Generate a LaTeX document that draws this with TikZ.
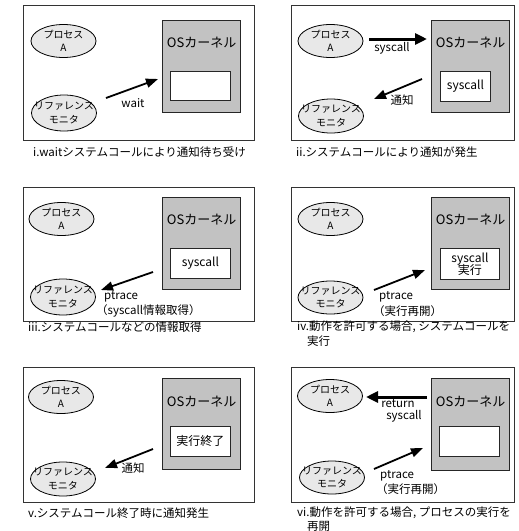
\documentclass[tikz,border=0pt]{standalone}
\usepackage{fontspec}
\setmainfont{Noto Sans CJK JP}
\usetikzlibrary{arrows.meta,shapes.geometric}
\tikzset{
  panel/.style={draw=black!80, line width=0.8pt, fill=white},
  proc/.style={ellipse, draw=black, line width=0.8pt, fill=black!9, minimum width=65pt, minimum height=33pt, inner sep=0pt},
  ptext/.style={align=center, inner sep=0pt, font=\fontsize{10}{13.5}\selectfont},
  kernbox/.style={draw=black!85, line width=1.3pt, fill=black!24, anchor=north west, inner sep=0pt},
  innerbox/.style={draw=black!85, line width=0.9pt, fill=white, anchor=north west, inner sep=0pt},
  ktext/.style={font=\fontsize{13}{14}\selectfont, inner sep=0pt},
  itext/.style={font=\fontsize{12}{13}\selectfont, inner sep=0pt, align=center},
  lbl/.style={font=\fontsize{11.5}{12}\selectfont, inner sep=0pt},
  captext/.style={font=\fontsize{11.5}{13}\selectfont, inner sep=0pt, anchor=west},
  arr/.style={line width=1.8pt, -{Triangle[length=12pt,width=9pt]}},
  arrthick/.style={line width=3pt, -{Triangle[length=12pt,width=11pt]}},
}
\begin{document}
\begin{tikzpicture}[x=1pt,y=-1pt]
\useasboundingbox (0,0) rectangle (519,531);
% ---------- Panel i ----------
\node[panel, minimum width=231pt, minimum height=135pt, anchor=north west, inner sep=0pt] (o1) at (23,5) {};
\node[kernbox, minimum width=78pt, minimum height=92pt] (k1) at (162,20) {};
\node[ktext] (kt1) at ([yshift=-23pt]k1.north) {OSカーネル};
\node[innerbox, minimum width=60pt, minimum height=29pt] (i1) at (170,71) {};
\node[proc] (a1) at (63.5,41) {};
\node[ptext] (a1t) at (a1) {プロセス\\A};
\node[proc, minimum height=36pt] (r1) at (64,113) {};
\node[ptext] (r1t) at (r1) {リファレンス\\モニタ};
\coordinate (w1s) at (106,98);
\coordinate (w1e) at (158,79);
\draw[arr] (w1s) -- (w1e);
\node[lbl] (l1) at (133,103) {wait};
\node[captext] (c1) at (33,152) {i.waitシステムコールにより通知待ち受け};
% ---------- Panel ii ----------
\node[panel, minimum width=223pt, minimum height=135pt, anchor=north west, inner sep=0pt] (o2) at (291,5) {};
\node[kernbox, minimum width=78pt, minimum height=92pt] (k2) at (431,20) {};
\node[ktext] (kt2) at ([yshift=-23pt]k2.north) {OSカーネル};
\node[innerbox, minimum width=50pt, minimum height=30pt] (i2) at (440,71) {};
\node[itext] (it2) at (i2.center) {syscall};
\node[proc] (a2) at (330.5,41) {};
\node[ptext] (a2t) at (a2) {プロセス\\A};
\node[proc, minimum height=34pt] (r2) at (331,116) {};
\node[ptext] (r2t) at (r2) {リファレンス\\モニタ};
\coordinate (s2s) at (369,39);
\coordinate (s2e) at (427,39);
\draw[arrthick] (s2s) -- (s2e);
\node[lbl] (l2a) at (392,48) {syscall};
\coordinate (n2s) at (422,79);
\coordinate (n2e) at (374,99);
\draw[arr] (n2s) -- (n2e);
\node[lbl] (l2b) at (402,100) {通知};
\node[captext] (c2) at (296,152) {ii.システムコールにより通知が発生};
% ---------- Panel iii ----------
\node[panel, minimum width=231pt, minimum height=134pt, anchor=north west, inner sep=0pt] (o3) at (23,187) {};
\node[kernbox, minimum width=78pt, minimum height=92pt] (k3) at (162,197) {};
\node[ktext] (kt3) at ([yshift=-23pt]k3.north) {OSカーネル};
\node[innerbox, minimum width=60pt, minimum height=30pt] (i3) at (170,248) {};
\node[itext] (it3) at (i3.center) {syscall};
\node[proc] (a3) at (61.5,219) {};
\node[ptext] (a3t) at (a3) {プロセス\\A};
\node[proc, minimum height=36pt] (r3) at (63,297) {};
\node[ptext] (r3t) at (r3) {リファレンス\\モニタ};
\coordinate (p3s) at (153,272);
\coordinate (p3e) at (101,290);
\draw[arr] (p3s) -- (p3e);
\node[lbl, anchor=west] (l3a) at (104,297) {ptrace};
\node[lbl, anchor=west] (l3b) at (96,311) {（syscall情報取得）};
\node[captext] (c3) at (28,327) {iii.システムコールなどの情報取得};
% ---------- Panel iv ----------
\node[panel, minimum width=223pt, minimum height=134pt, anchor=north west, inner sep=0pt] (o4) at (291,187) {};
\node[kernbox, minimum width=78pt, minimum height=92pt] (k4) at (431,197) {};
\node[ktext] (kt4) at ([yshift=-23pt]k4.north) {OSカーネル};
\node[innerbox, minimum width=59pt, minimum height=31pt] (i4) at (440,248) {};
\node[itext] (it4) at (i4.center) {syscall\\[-1pt]実行};
\node[proc] (a4) at (330.5,219) {};
\node[ptext] (a4t) at (a4) {プロセス\\A};
\node[proc, minimum height=33pt] (r4) at (330.5,297.5) {};
\node[ptext] (r4t) at (r4) {リファレンス\\モニタ};
\coordinate (p4s) at (374,290);
\coordinate (p4e) at (425,270);
\draw[arr] (p4s) -- (p4e);
\node[lbl, anchor=west] (l4a) at (379,297) {ptrace};
\node[lbl, anchor=west] (l4b) at (373,311) {（実行再開）};
\node[captext] (c4) at (297,327) {iv.動作を許可する場合, システムコールを};
\node[captext] (c4b) at (307,341) {実行};
% ---------- Panel v ----------
\node[panel, minimum width=231pt, minimum height=135pt, anchor=north west, inner sep=0pt] (o5) at (23,367) {};
\node[kernbox, minimum width=78pt, minimum height=91pt] (k5) at (162,378) {};
\node[ktext] (kt5) at ([yshift=-24pt]k5.north) {OSカーネル};
\node[innerbox, minimum width=60pt, minimum height=30pt] (i5) at (170,426) {};
\node[itext] (it5) at (i5.center) {実行終了};
\node[proc] (a5) at (61,397) {};
\node[ptext] (a5t) at (a5) {プロセス\\A};
\node[proc, minimum height=34pt] (r5) at (63,479) {};
\node[ptext] (r5t) at (r5) {リファレンス\\モニタ};
\coordinate (n5s) at (153,449);
\coordinate (n5e) at (105,468);
\draw[arr] (n5s) -- (n5e);
\node[lbl] (l5) at (133,468) {通知};
\node[captext] (c5) at (28,513) {v.システムコール終了時に通知発生};
% ---------- Panel vi ----------
\node[panel, minimum width=223pt, minimum height=135pt, anchor=north west, inner sep=0pt] (o6) at (291,367) {};
\node[kernbox, minimum width=78pt, minimum height=92pt] (k6) at (431,378) {};
\node[ktext] (kt6) at ([yshift=-24pt]k6.north) {OSカーネル};
\node[innerbox, minimum width=60pt, minimum height=30pt] (i6) at (439,426) {};
\node[proc] (a6) at (330,396) {};
\node[ptext] (a6t) at (a6) {プロセス\\A};
\node[proc, minimum height=33pt] (r6) at (332,477.5) {};
\node[ptext] (r6t) at (r6) {リファレンス\\モニタ};
\coordinate (r6s) at (427,397);
\coordinate (r6e) at (366,397);
\draw[arrthick] (r6s) -- (r6e);
\node[lbl] (l6a) at (398,404) {return};
\node[lbl] (l6b) at (404,416) {syscall};
\coordinate (p6s) at (374,469);
\coordinate (p6e) at (423,448);
\draw[arr] (p6s) -- (p6e);
\node[lbl, anchor=west] (l6c) at (380,476) {ptrace};
\node[lbl, anchor=west] (l6d) at (376,489) {（実行再開）};
\node[captext] (c6) at (297,513) {vi.動作を許可する場合, プロセスの実行を};
\node[captext] (c6b) at (307,526) {再開};
\end{tikzpicture}
\end{document}
